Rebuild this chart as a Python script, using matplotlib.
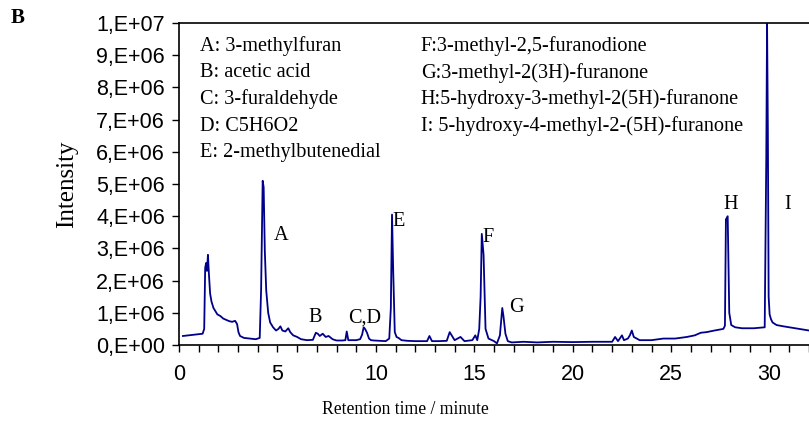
import matplotlib
matplotlib.use("Agg")
import matplotlib.pyplot as plt
from matplotlib.ticker import MultipleLocator, FixedLocator
import numpy as np

# Chromatogram trace (time in minutes, intensity in 1e6 counts)
times = [0.2, 0.5, 0.8, 1.0, 1.2, 1.28, 1.33, 1.38, 1.42, 1.47, 1.52, 1.58, 1.65, 1.75,
         1.85, 1.95, 2.1, 2.25, 2.4, 2.55, 2.7, 2.85, 2.95, 3.02, 3.1, 3.3, 3.6, 3.9,
         4.1, 4.17, 4.25, 4.3, 4.36, 4.43, 4.53, 4.63, 4.78, 4.93, 5.05, 5.15, 5.25, 5.4,
         5.55, 5.65, 5.8, 6.0, 6.2, 6.5, 6.8, 6.95, 7.05, 7.15, 7.3, 7.45, 7.6, 7.8,
         8.0, 8.3, 8.45, 8.52, 8.6, 9.0, 9.2, 9.3, 9.38, 9.45, 9.55, 9.65, 9.75, 9.9,
         10.2, 10.5, 10.68, 10.76, 10.82, 10.88, 10.96, 11.05, 11.15, 11.3, 11.6, 12.0,
         12.6, 12.72, 12.85, 13.2, 13.6, 13.75, 13.85, 14.0, 14.3, 14.5, 14.9, 15.05,
         15.15, 15.25, 15.32, 15.38, 15.47, 15.57, 15.72, 16.0, 16.15, 16.3, 16.42,
         16.48, 16.58, 16.7, 16.9, 17.5, 18.2, 19.0, 20.0, 21.0, 22.0, 22.15, 22.3,
         22.5, 22.6, 22.8, 22.9, 23.0, 23.1, 23.4, 24.0, 24.6, 25.2, 25.8, 26.2, 26.5,
         26.8, 27.2, 27.65, 27.73, 27.78, 27.87, 27.95, 28.05, 28.25, 28.6, 29.2, 29.75,
         29.83, 29.87, 29.91, 29.95, 30.0, 30.07, 30.15, 30.35, 30.7, 31.0, 31.5, 32.0]
intensity = [0.28, 0.30, 0.32, 0.33, 0.35, 0.5, 2.4, 2.55, 2.3, 2.8, 2.2, 1.6, 1.35, 1.15,
             1.05, 0.95, 0.9, 0.82, 0.78, 0.74, 0.72, 0.75, 0.65, 0.4, 0.28, 0.22, 0.2, 0.18,
             0.22, 1.7, 5.1, 4.9, 2.9, 1.7, 1.0, 0.7, 0.55, 0.45, 0.5, 0.58, 0.45, 0.42,
             0.52, 0.4, 0.3, 0.25, 0.18, 0.15, 0.16, 0.38, 0.35, 0.28, 0.35, 0.25, 0.28, 0.18,
             0.14, 0.14, 0.15, 0.42, 0.15, 0.15, 0.18, 0.32, 0.55, 0.5, 0.38, 0.2, 0.15, 0.14,
             0.13, 0.12, 0.2, 1.15, 4.05, 2.3, 0.4, 0.25, 0.22, 0.15, 0.13, 0.12,
             0.12, 0.28, 0.12, 0.12, 0.13, 0.4, 0.3, 0.15, 0.25, 0.12, 0.15, 0.3,
             0.15, 0.5, 1.5, 3.45, 2.8, 0.5, 0.2, 0.12, 0.05, 0.3, 1.15,
             0.9, 0.35, 0.12, 0.08, 0.1, 0.08, 0.1, 0.09, 0.1, 0.1, 0.25, 0.12,
             0.3, 0.15, 0.2, 0.3, 0.45, 0.25, 0.15, 0.15, 0.2, 0.2, 0.25, 0.3, 0.38,
             0.4, 0.45, 0.5, 0.6, 3.9, 4.0, 1.0, 0.62, 0.55, 0.52, 0.52, 0.55,
             5.8, 10.0, 6.7, 1.5, 0.95, 0.8, 0.7, 0.62, 0.58, 0.55, 0.5, 0.45]

ytick_values = list(range(0, 11))
ytick_labels = ["0,E+00", "1,E+06", "2,E+06", "3,E+06", "4,E+06", "5,E+06",
                "6,E+06", "7,E+06", "8,E+06", "9,E+06", "1,E+07"]
xtick_values = [0, 5, 10, 15, 20, 25, 30]

compounds_left = ["A: 3-methylfuran", "B: acetic acid", "C: 3-furaldehyde",
                  "D: C5H6O2", "E: 2-methylbutenedial"]
compounds_right = ["F:3-methyl-2,5-furanodione", "G:3-methyl-2(3H)-furanone",
                   "H:5-hydroxy-3-methyl-2(5H)-furanone",
                   "I: 5-hydroxy-4-methyl-2-(5H)-furanone"]
peak_names = ["A", "B", "C,D", "E", "F", "G", "H", "I"]
peak_times = [5.17, 6.94, 9.43, 11.15, 15.71, 17.13, 28.03, 30.92]
peak_heights = [3.39, 0.84, 0.84, 3.82, 3.35, 1.15, 4.35, 4.35]

serif = "Liberation Serif"
sans = "Liberation Sans"

fig = plt.figure(figsize=(8.09, 4.30), dpi=100)
ax = fig.add_axes([179 / 809, 1 - 345 / 430, 630 / 809, 322 / 430])

ax.plot(times, np.array(intensity) * 1e6, color="#00008B", lw=1.3)

ax.set_xlim(0, 32)
ax.set_ylim(0, 1e7)
ax.xaxis.set_major_locator(FixedLocator(xtick_values))
ax.xaxis.set_minor_locator(MultipleLocator(1))
ax.set_yticks(np.array(ytick_values) * 1e6)
ax.set_yticklabels(ytick_labels)
ax.set_xticklabels([str(v) for v in xtick_values])
for lab in ax.get_xticklabels() + ax.get_yticklabels():
    lab.set_fontfamily(sans)
    lab.set_fontsize(15.5)
ax.tick_params(axis="both", which="major", direction="out", length=5, width=1, pad=5)
ax.tick_params(axis="x", which="minor", direction="out", length=5, width=1)
ax.tick_params(axis="x", pad=9)
ax.spines["right"].set_visible(False)
for s in ["left", "top", "bottom"]:
    ax.spines[s].set_linewidth(1.2)

# compound key
for i, txt in enumerate(compounds_left):
    ax.text(0.033, 0.929 - i * 0.083, txt, transform=ax.transAxes,
            family=serif, fontsize=14.6, va="center", ha="left")
for i, txt in enumerate(compounds_right):
    ax.text(0.384, 0.929 - i * 0.083, txt, transform=ax.transAxes,
            family=serif, fontsize=14.6, va="center", ha="left")

# peak letters
for name, t, h in zip(peak_names, peak_times, peak_heights):
    ax.text(t, h * 1e6, name, family=serif, fontsize=14.6, ha="center", va="center")

fig.text(67 / 809, 1 - 184 / 430, "Intensity", family=serif, fontsize=18,
         rotation=90, ha="center", va="center")
fig.text(405 / 809, 1 - 410 / 430, "Retention time / minute", family=serif,
         fontsize=12.7, ha="center", va="center")
fig.text(18 / 809, 1 - 18 / 430, "B", family=serif, fontsize=15, weight="bold",
         ha="center", va="center")

fig.savefig("out.png", dpi=100)
